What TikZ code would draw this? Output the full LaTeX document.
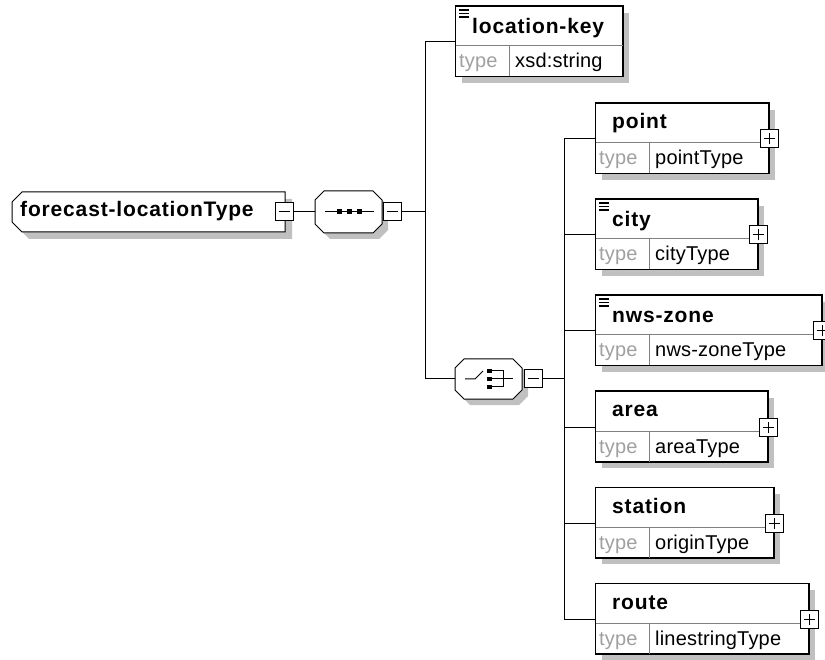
\documentclass[tikz,border=0pt]{standalone}
\usepackage{fontspec}
\setmainfont{Liberation Sans}
\newfontfamily\titlef[LetterSpace=4]{Liberation Sans}
\newfontfamily\valf[LetterSpace=1]{Liberation Sans}
\definecolor{shd}{HTML}{C0C0C0}
\definecolor{innerc}{HTML}{808080}
\definecolor{typec}{HTML}{A0A0A0}
\tikzset{
  elembox/.style={rectangle, draw=black, line width=1pt, fill=white, minimum height=70pt, inner sep=0pt, anchor=north west},
  pmbox/.style={rectangle, draw=black, line width=1pt, fill=white, minimum size=18pt, inner sep=0pt},
  innerline/.style={draw=innerc, line width=1pt},
  conn/.style={draw=black, line width=1pt},
  octo/.style={draw=black, line width=1pt, fill=white},
  titletext/.style={font=\titlef\bfseries\fontsize{21}{21}\selectfont, inner sep=0pt, anchor=base west},
  typetext/.style={font=\valf\fontsize{20}{20}\selectfont, text=typec, inner sep=0pt, anchor=base west},
  valtext/.style={font=\valf\fontsize{20}{20}\selectfont, text=black, inner sep=0pt, anchor=base west},
  icon/.style={draw=black, line width=1.1pt},
}
% #1 name, #2 x, #3 top, #4 width, #5 title, #6 value, #7 icon, #8 plus
\newcommand{\xelem}[8]{%
  \fill[shd] (#2+7,#3+7) rectangle ++(#4,70);
  \node[elembox, minimum width=#4pt] (#1) at (#2,#3) {};
  \draw[innerline] ([yshift=-40pt]#1.north west) -- ([yshift=-40pt]#1.north east);
  \draw[innerline] ([xshift=54pt,yshift=-40pt]#1.north west) -- ([xshift=54pt]#1.south west);
  \draw[black, line width=1pt] (#1.north west) rectangle (#1.south east);
  \ifnum#7=1 \def\ty{-28pt}\else\def\ty{-26pt}\fi
  \node[titletext] (#1-title) at ([xshift=17pt,yshift=\ty]#1.north west) {#5};
  \node[typetext] (#1-type) at ([xshift=4pt,yshift=-62pt]#1.north west) {type};
  \node[valtext] (#1-val) at ([xshift=60pt,yshift=-62pt]#1.north west) {#6};
  \coordinate (#1-in) at ([yshift=-36pt]#1.north west);
  \ifnum#7=1
    \draw[icon] ([xshift=4pt,yshift=-4pt]#1.north west) -- ([xshift=14pt,yshift=-4pt]#1.north west);
    \draw[icon] ([xshift=4pt,yshift=-7.5pt]#1.north west) -- ([xshift=14pt,yshift=-7.5pt]#1.north west);
    \draw[icon] ([xshift=4pt,yshift=-11pt]#1.north west) -- ([xshift=14pt,yshift=-11pt]#1.north west);
  \fi
  \ifnum#8=1
    \node[pmbox] (#1-pm) at ([yshift=-36pt]#1.north east) {};
    \draw[black, line width=1pt] ([xshift=-5.5pt]#1-pm.center) -- ([xshift=5.5pt]#1-pm.center)
      ([yshift=-5.5pt]#1-pm.center) -- ([yshift=5.5pt]#1-pm.center);
  \fi
}
\begin{document}
\begin{tikzpicture}[x=1pt,y=-1pt]
\fill[white] (0,0) rectangle (825,660);
\useasboundingbox (0,0) rectangle (825,660);

% ---------- root ----------
\fill[shd] (19,209) -- (29,199) -- (292,199) -- (292,239) -- (29,239) -- (19,229) -- cycle;
\draw[octo] (12,202) -- (22,192) -- (285,192) -- (285,232) -- (22,232) -- (12,222) -- cycle;
\node[inner sep=0pt, minimum width=273pt, minimum height=40pt] (root) at (148.5,212) {};
\node[titletext] (roottxt) at (20,217) {forecast-locationType};

% ---------- sequence ----------
\fill[shd] (321,206) -- (330,197) -- (379,197) -- (388,206) -- (388,230) -- (379,239) -- (330,239) -- (321,230) -- cycle;
\draw[octo] (315,200) -- (324,191) -- (373,191) -- (382,200) -- (382,224) -- (373,233) -- (324,233) -- (315,224) -- cycle;
\node[inner sep=0pt, minimum width=67pt, minimum height=42pt] (seq) at (348.5,212) {};
\draw[black, line width=1pt] (325,212) -- (374,212);
\fill[black] (337,209.5) rectangle ++(5,5);
\fill[black] (347,209.5) rectangle ++(5,5);
\fill[black] (357,209.5) rectangle ++(5,5);

% ---------- choice ----------
\fill[shd] (461,374) -- (470,365) -- (519,365) -- (528,374) -- (528,396) -- (519,405) -- (470,405) -- (461,396) -- cycle;
\draw[octo] (455,368) -- (464,359) -- (513,359) -- (522,368) -- (522,390) -- (513,399) -- (464,399) -- (455,390) -- cycle;
\node[inner sep=0pt, minimum width=67pt, minimum height=40pt] (choice) at (488.5,379) {};
\draw[black, line width=1pt] (465,379) -- (475,379) -- (483,371);
\fill[black] (487,369) rectangle ++(5,4);
\fill[black] (487,377) rectangle ++(5,4);
\fill[black] (487,385) rectangle ++(5,4);
\draw[black, line width=1pt] (492,371) -- (503,371) -- (503,387) -- (492,387);
\draw[black, line width=1pt] (492,379) -- (513,379);

% ---------- elements ----------
\xelem{lk}{455}{6}{167}{location-key}{xsd:string}{1}{0}
\xelem{point}{595}{103}{173}{point}{pointType}{0}{1}
\xelem{city}{595}{199}{162}{city}{cityType}{1}{1}
\xelem{nws}{595}{295}{226}{nws-zone}{nws-zoneType}{1}{1}
\xelem{area}{595}{391}{172}{area}{areaType}{0}{1}
\xelem{station}{595}{487}{178}{station}{originType}{0}{1}
\xelem{route}{595}{583}{213}{route}{linestringType}{0}{1}

% ---------- connectors ----------
\coordinate (bus1) at (425,212);
\coordinate (bus2) at (564,379);
\node[pmbox] (rootm) at (284,212) {};
\node[pmbox] (seqm) at (392,212) {};
\node[pmbox] (choicem) at (533,379) {};
\draw[conn] (rootm.east) -- (seq.west);
\draw[conn] (seqm.east) -- (bus1);
\draw[conn] (lk-in -| bus1) -- (choice.west -| bus1);
\draw[conn] (lk-in -| bus1) -- (lk-in);
\draw[conn] (choice.west -| bus1) -- (choice.west);
\draw[conn] (choicem.east) -- (bus2);
\draw[conn] (point-in -| bus2) -- (route-in -| bus2);
\foreach \n in {point,city,nws,area,station,route}{
  \draw[conn] (\n-in -| bus2) -- (\n-in);
}
\foreach \m in {rootm,seqm,choicem}{
  \draw[black, line width=1pt] ([xshift=-5.5pt]\m.center) -- ([xshift=5.5pt]\m.center);
}
\end{tikzpicture}
\end{document}
